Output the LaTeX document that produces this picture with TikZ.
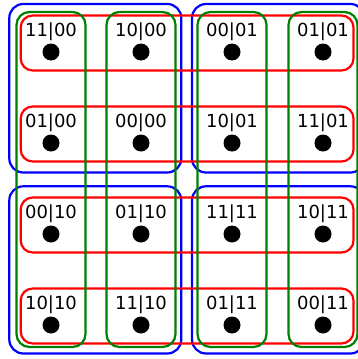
\documentclass[tikz,border=0pt]{standalone}
\usepackage{fontspec}
\setmainfont{DejaVu Sans}
\begin{document}
\begin{tikzpicture}[x=1pt,y=-1pt,
  dot/.style={circle,fill=black,inner sep=0pt,minimum size=17pt},
  lbl/.style={font=\fontsize{18}{21}\selectfont,inner sep=0pt},
  bluebox/.style={draw=blue,line width=2.2pt,rounded corners=14pt},
  redbox/.style={draw=red,line width=2.2pt,rounded corners=12pt},
  greenbox/.style={draw=green!50!black,line width=2.2pt,rounded corners=13pt}]
\useasboundingbox (0,0) rectangle (358,359);
\clip (0,0) rectangle (358,359);
% blue quadrants
\draw[bluebox] (9.3,4) rectangle (181.3,172.5);
\draw[bluebox] (192,4) rectangle (364.5,172.5);
\draw[bluebox] (9.3,186.3) rectangle (181.3,353.5);
\draw[bluebox] (192,186.3) rectangle (364.5,353.5);
% red rows
\foreach \y in {52,143,234,325}
  \draw[redbox] (20.7,\y-36.5) rectangle (353.5,\y+18.5);
% green columns
\foreach \x in {51,141,232,323}
  \draw[greenbox] (\x-34.5,12) rectangle (\x+34.5,347);
% cells
\foreach \x/\y/\t/\n in {
  51/52/11|00/a, 141/52/10|00/b, 232/52/00|01/c, 323/52/01|01/d,
  51/143/01|00/e, 141/143/00|00/f, 232/143/10|01/g, 323/143/11|01/h,
  51/234/00|10/i, 141/234/01|10/j, 232/234/11|11/k, 323/234/10|11/l,
  51/325/10|10/m, 141/325/11|10/n, 232/325/01|11/o, 323/325/00|11/p}{
  \node[dot] (d\n) at (\x,\y) {};
  \node[lbl] (t\n) at (\x,\y-20.5) {\t};
}
\end{tikzpicture}
\end{document}
